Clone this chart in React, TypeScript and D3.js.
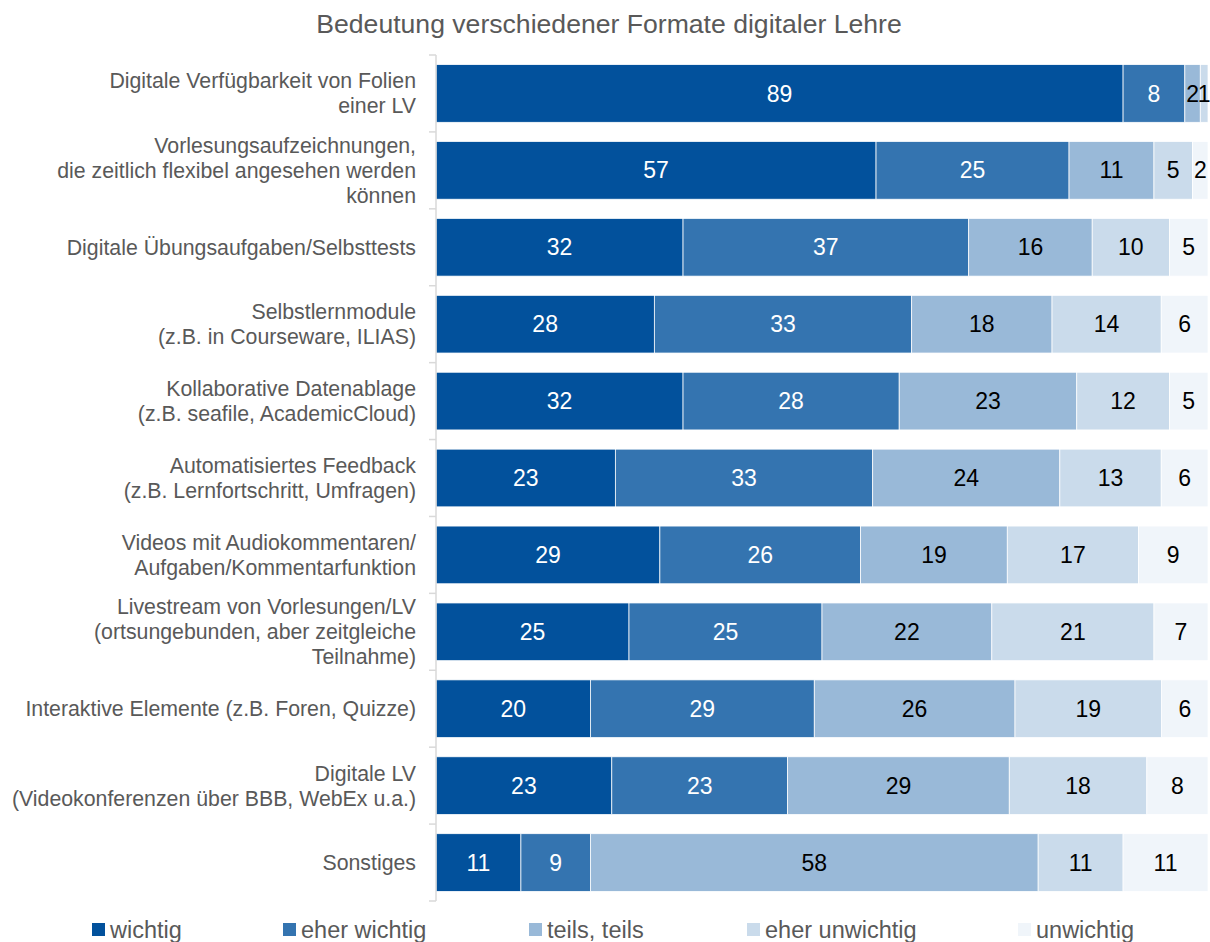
import React from "react";
import * as d3 from "d3";

const title = "Bedeutung verschiedener Formate digitaler Lehre";

const categories: string[][] = [
  ["Digitale Verfügbarkeit von Folien", "einer LV"],
  ["Vorlesungsaufzeichnungen,", "die zeitlich flexibel angesehen werden", "können"],
  ["Digitale Übungsaufgaben/Selbsttests"],
  ["Selbstlernmodule", "(z.B. in Courseware, ILIAS)"],
  ["Kollaborative Datenablage", "(z.B. seafile, AcademicCloud)"],
  ["Automatisiertes Feedback", "(z.B. Lernfortschritt, Umfragen)"],
  ["Videos mit Audiokommentaren/", "Aufgaben/Kommentarfunktion"],
  ["Livestream von Vorlesungen/LV", "(ortsungebunden, aber zeitgleiche", "Teilnahme)"],
  ["Interaktive Elemente (z.B. Foren, Quizze)"],
  ["Digitale LV", "(Videokonferenzen über BBB, WebEx u.a.)"],
  ["Sonstiges"],
];

const seriesNames = ["wichtig", "eher wichtig", "teils, teils", "eher unwichtig", "unwichtig"];

const wichtig = [89, 57, 32, 28, 32, 23, 29, 25, 20, 23, 11];
const eherWichtig = [8, 25, 37, 33, 28, 33, 26, 25, 29, 23, 9];
const teilsTeils = [2, 11, 16, 18, 23, 24, 19, 22, 26, 29, 58];
const eherUnwichtig = [1, 5, 10, 14, 12, 13, 17, 21, 19, 18, 11];
const unwichtig = [0, 2, 5, 6, 5, 6, 9, 7, 6, 8, 11];

const colors = ["#02519c", "#3474b0", "#99b9d8", "#cadbeb", "#f0f5fa"];
const labelColors = ["#ffffff", "#ffffff", "#000000", "#000000", "#000000"];

const seriesValues = [wichtig, eherWichtig, teilsTeils, eherUnwichtig, unwichtig];

const legendX = [92, 283, 529, 747, 1018];

const FONT = "Arial, 'Liberation Sans', Helvetica, sans-serif";

export default function App() {
  const W = 1210;
  const H = 942;
  const keys = seriesNames;
  const rows = categories.map((c, i) => {
    const r: any = { key: String(i) };
    keys.forEach((k, j) => (r[k] = seriesValues[j][i]));
    return r;
  });
  const stack = d3.stack<any>().keys(keys).offset(d3.stackOffsetExpand);
  const stacked = stack(rows);

  const x = d3.scaleLinear().domain([0, 1]).range([436, 1208]);
  const y = d3
    .scaleBand<string>()
    .domain(rows.map((r) => r.key))
    .range([55, 901])
    .paddingInner(0.25)
    .paddingOuter(0.125);
  const step = y.step();
  const lineH = 25;

  return (
    <div style={{ position: "absolute", left: 0, top: 0 }}>
      <svg width={W} height={H} style={{ display: "block", fontFamily: FONT }}>
        <rect width={W} height={H} fill="#ffffff" />
        <text x={609} y={33} textAnchor="middle" fontSize={26.6} fill="#595959">
          {title}
        </text>

        {stacked.map((s, si) => (
          <g key={s.key}>
            {s.map((d, ri) => {
              const x0 = x(d[0]);
              const x1 = x(d[1]);
              const yy = y(String(ri))!;
              const v = seriesValues[si][ri];
              if (v === 0) return null;
              return (
                <g key={ri}>
                  <rect
                    x={x0}
                    y={yy}
                    width={Math.max(0, x1 - x0)}
                    height={y.bandwidth()}
                    fill={colors[si]}
                    stroke="#ffffff"
                    strokeWidth={0.75}
                  />
                  <text
                    x={(x0 + x1) / 2}
                    y={yy + y.bandwidth() / 2}
                    dy="0.35em"
                    textAnchor="middle"
                    fontSize={23}
                    fill={labelColors[si]}
                  >
                    {v}
                  </text>
                </g>
              );
            })}
          </g>
        ))}

        {/* axis */}
        <line x1={436} x2={436} y1={55} y2={901} stroke="#d9d9d9" strokeWidth={1.5} />
        {d3.range(categories.length + 1).map((i) => (
          <line
            key={i}
            x1={429}
            x2={436}
            y1={55 + i * step}
            y2={55 + i * step}
            stroke="#d9d9d9"
            strokeWidth={1.5}
          />
        ))}

        {categories.map((lines, i) => {
          const cy = y(String(i))! + y.bandwidth() / 2;
          const startY = cy - ((lines.length - 1) * lineH) / 2;
          return (
            <text key={i} textAnchor="end" fontSize={21.3} fill="#595959">
              {lines.map((ln, li) => (
                <tspan key={li} x={416} y={startY + li * lineH} dy="0.35em">
                  {ln}
                </tspan>
              ))}
            </text>
          );
        })}

        {seriesNames.map((n, i) => (
          <g key={n}>
            <rect x={legendX[i]} y={923} width={13} height={13} fill={colors[i]} />
            <text x={legendX[i] + 18} y={930} dy="0.35em" fontSize={23.5} fill="#595959">
              {n}
            </text>
          </g>
        ))}
      </svg>
    </div>
  );
}
